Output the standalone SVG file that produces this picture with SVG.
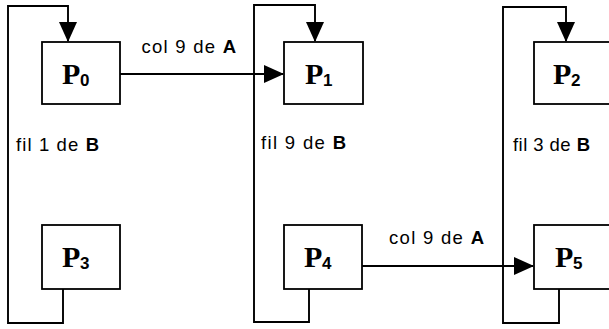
<svg xmlns="http://www.w3.org/2000/svg" width="609" height="329" viewBox="0 0 609 329">
<style>
.box{fill:#fff;stroke:#000;stroke-width:1.8}
.ln{fill:none;stroke:#000;stroke-width:1.9;stroke-linejoin:miter}
.p{font-family:"Liberation Serif","Times New Roman",serif;font-weight:bold;font-size:30px;fill:#000}
.sub{font-family:"Liberation Sans",Arial,sans-serif;font-weight:bold;font-size:17px;fill:#000}
.lbl{font-family:"Liberation Sans",Arial,sans-serif;font-size:18.5px;fill:#000}
.b{font-weight:bold}
</style>
<defs>
<marker id="arr" markerUnits="userSpaceOnUse" markerWidth="20" markerHeight="20" viewBox="0 0 20 20" refX="19" refY="10" orient="auto">
<path d="M0,1 L20,10 L0,19 Z" fill="#000"/>
</marker>
</defs>
<rect width="609" height="329" fill="#fff"/>
<g id="connectors">
<polyline class="ln" points="63,289 63,323 8,323 8,6 68,6 68,41" marker-end="url(#arr)"/>
<polyline class="ln" points="309,289 309,322 254,322 254,5 315,5 315,41" marker-end="url(#arr)"/>
<polyline class="ln" points="559,289 559,323 503,323 503,7 566,7 566,41" marker-end="url(#arr)"/>
<line class="ln" x1="120" y1="74" x2="283" y2="74" marker-end="url(#arr)"/>
<line class="ln" x1="362" y1="266" x2="533" y2="266" marker-end="url(#arr)"/>
<text class="lbl" x="141.5" y="52.5" textLength="94.5" lengthAdjust="spacing">col 9 de <tspan class="b">A</tspan></text>
<text class="lbl" x="389" y="243.5" textLength="95" lengthAdjust="spacing">col 9 de <tspan class="b">A</tspan></text>
<text class="lbl" x="16" y="150.5" textLength="83" lengthAdjust="spacing">fil 1 de <tspan class="b">B</tspan></text>
<text class="lbl" x="261" y="148.5" textLength="85" lengthAdjust="spacing">fil 9 de <tspan class="b">B</tspan></text>
<text class="lbl" x="513" y="150.5" textLength="77" lengthAdjust="spacing">fil 3 de <tspan class="b">B</tspan></text>
</g>
<g id="P0">
<rect class="box" x="42" y="42" width="78" height="62"/>
<text class="p" x="62" y="84">P</text><text class="sub" x="80" y="86">0</text>
</g>
<g id="P1">
<rect class="box" x="284" y="42" width="79" height="62"/>
<text class="p" x="305" y="84">P</text><text class="sub" x="323" y="86">1</text>
</g>
<g id="P2">
<rect class="box" x="534" y="42" width="79" height="62"/>
<text class="p" x="553" y="84">P</text><text class="sub" x="571" y="86">2</text>
</g>
<g id="P3">
<rect class="box" x="42" y="225" width="78" height="64"/>
<text class="p" x="62" y="267">P</text><text class="sub" x="80" y="269">3</text>
</g>
<g id="P4">
<rect class="box" x="284" y="225" width="78" height="64"/>
<text class="p" x="304" y="267">P</text><text class="sub" x="322" y="269">4</text>
</g>
<g id="P5">
<rect class="box" x="534" y="225" width="79" height="64"/>
<text class="p" x="555" y="267">P</text><text class="sub" x="573" y="269">5</text>
</g>
</svg>
